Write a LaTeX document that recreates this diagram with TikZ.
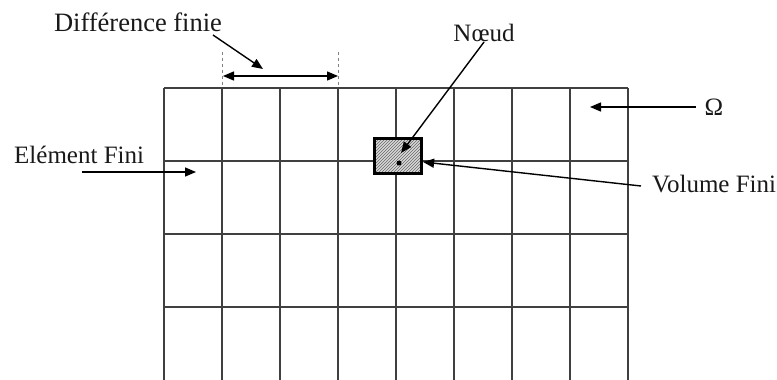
\documentclass[tikz,border=0pt]{standalone}
\usepackage{fontspec}
\setmainfont{Liberation Serif}
\usetikzlibrary{patterns,arrows.meta}
\begin{document}
\begin{tikzpicture}[x=1pt,y=-1pt,
  lbl/.style={font=\fontsize{25}{29}\selectfont, inner sep=0pt, text=black!90},
  arr/.style={line width=1.4pt, -{Triangle[length=11pt,width=9pt]}},
  gridline/.style={line width=1.4pt, draw=black!75},
  guide/.style={dashed, line width=0.8pt, draw=black!50}]
\useasboundingbox (0,0) rectangle (777,380);
% grid
\foreach \x in {164,222,280,338,396,454,512,570,628}
  \draw[gridline] (\x,88) -- (\x,380);
\foreach \y in {88,161,234,307}
  \draw[gridline] (164,\y) -- (628,\y);
% finite volume
\node[draw, line width=3.2pt, minimum width=47pt, minimum height=35pt,
      preaction={fill=gray!30}, pattern=north east lines, pattern color=black!60] (vf) at (398,156) {};
\node[circle, fill=black, inner sep=0pt, minimum size=5pt] (nd) at (399,163) {};
% labels
\node[lbl, font=\fontsize{26.5}{30}\selectfont] (df) at (138,22) {Différence finie};
\node[lbl] (noeud) at (484,33) {Nœud};
\node[lbl] (om) at (714,107) {Ω};
\node[lbl, anchor=west] (ef) at (14,155) {Elément Fini};
\node[lbl, anchor=west] (vft) at (652,184) {Volume Fini};
% coordinates
\coordinate (dfs) at (213,35);
\coordinate (dft) at (263,69);
\coordinate (dl) at (223,76);
\coordinate (dr) at (338,76);
\coordinate (nt) at (401,153);
\coordinate (oa) at (590,107);
\coordinate (efs) at (82,172);
\coordinate (eft) at (196,172);
\coordinate (vfs) at (641,186);
% dashed guides
\draw[guide] (222,52) -- (222,88);
\draw[guide] (338,52) -- (338,88);
% arrows
\draw[arr] (dfs) -- (dft);
\draw[line width=1.4pt, {Triangle[length=11pt,width=9pt]}-{Triangle[length=11pt,width=9pt]}] (dl) -- (dr);
\draw[arr] (noeud.south) -- (nt);
\draw[arr] ([xshift=-9pt]om.west) -- (oa);
\draw[arr] (efs) -- (eft);
\draw[arr] (vfs) -- ([yshift=-6pt]vf.east);
\end{tikzpicture}
\end{document}
